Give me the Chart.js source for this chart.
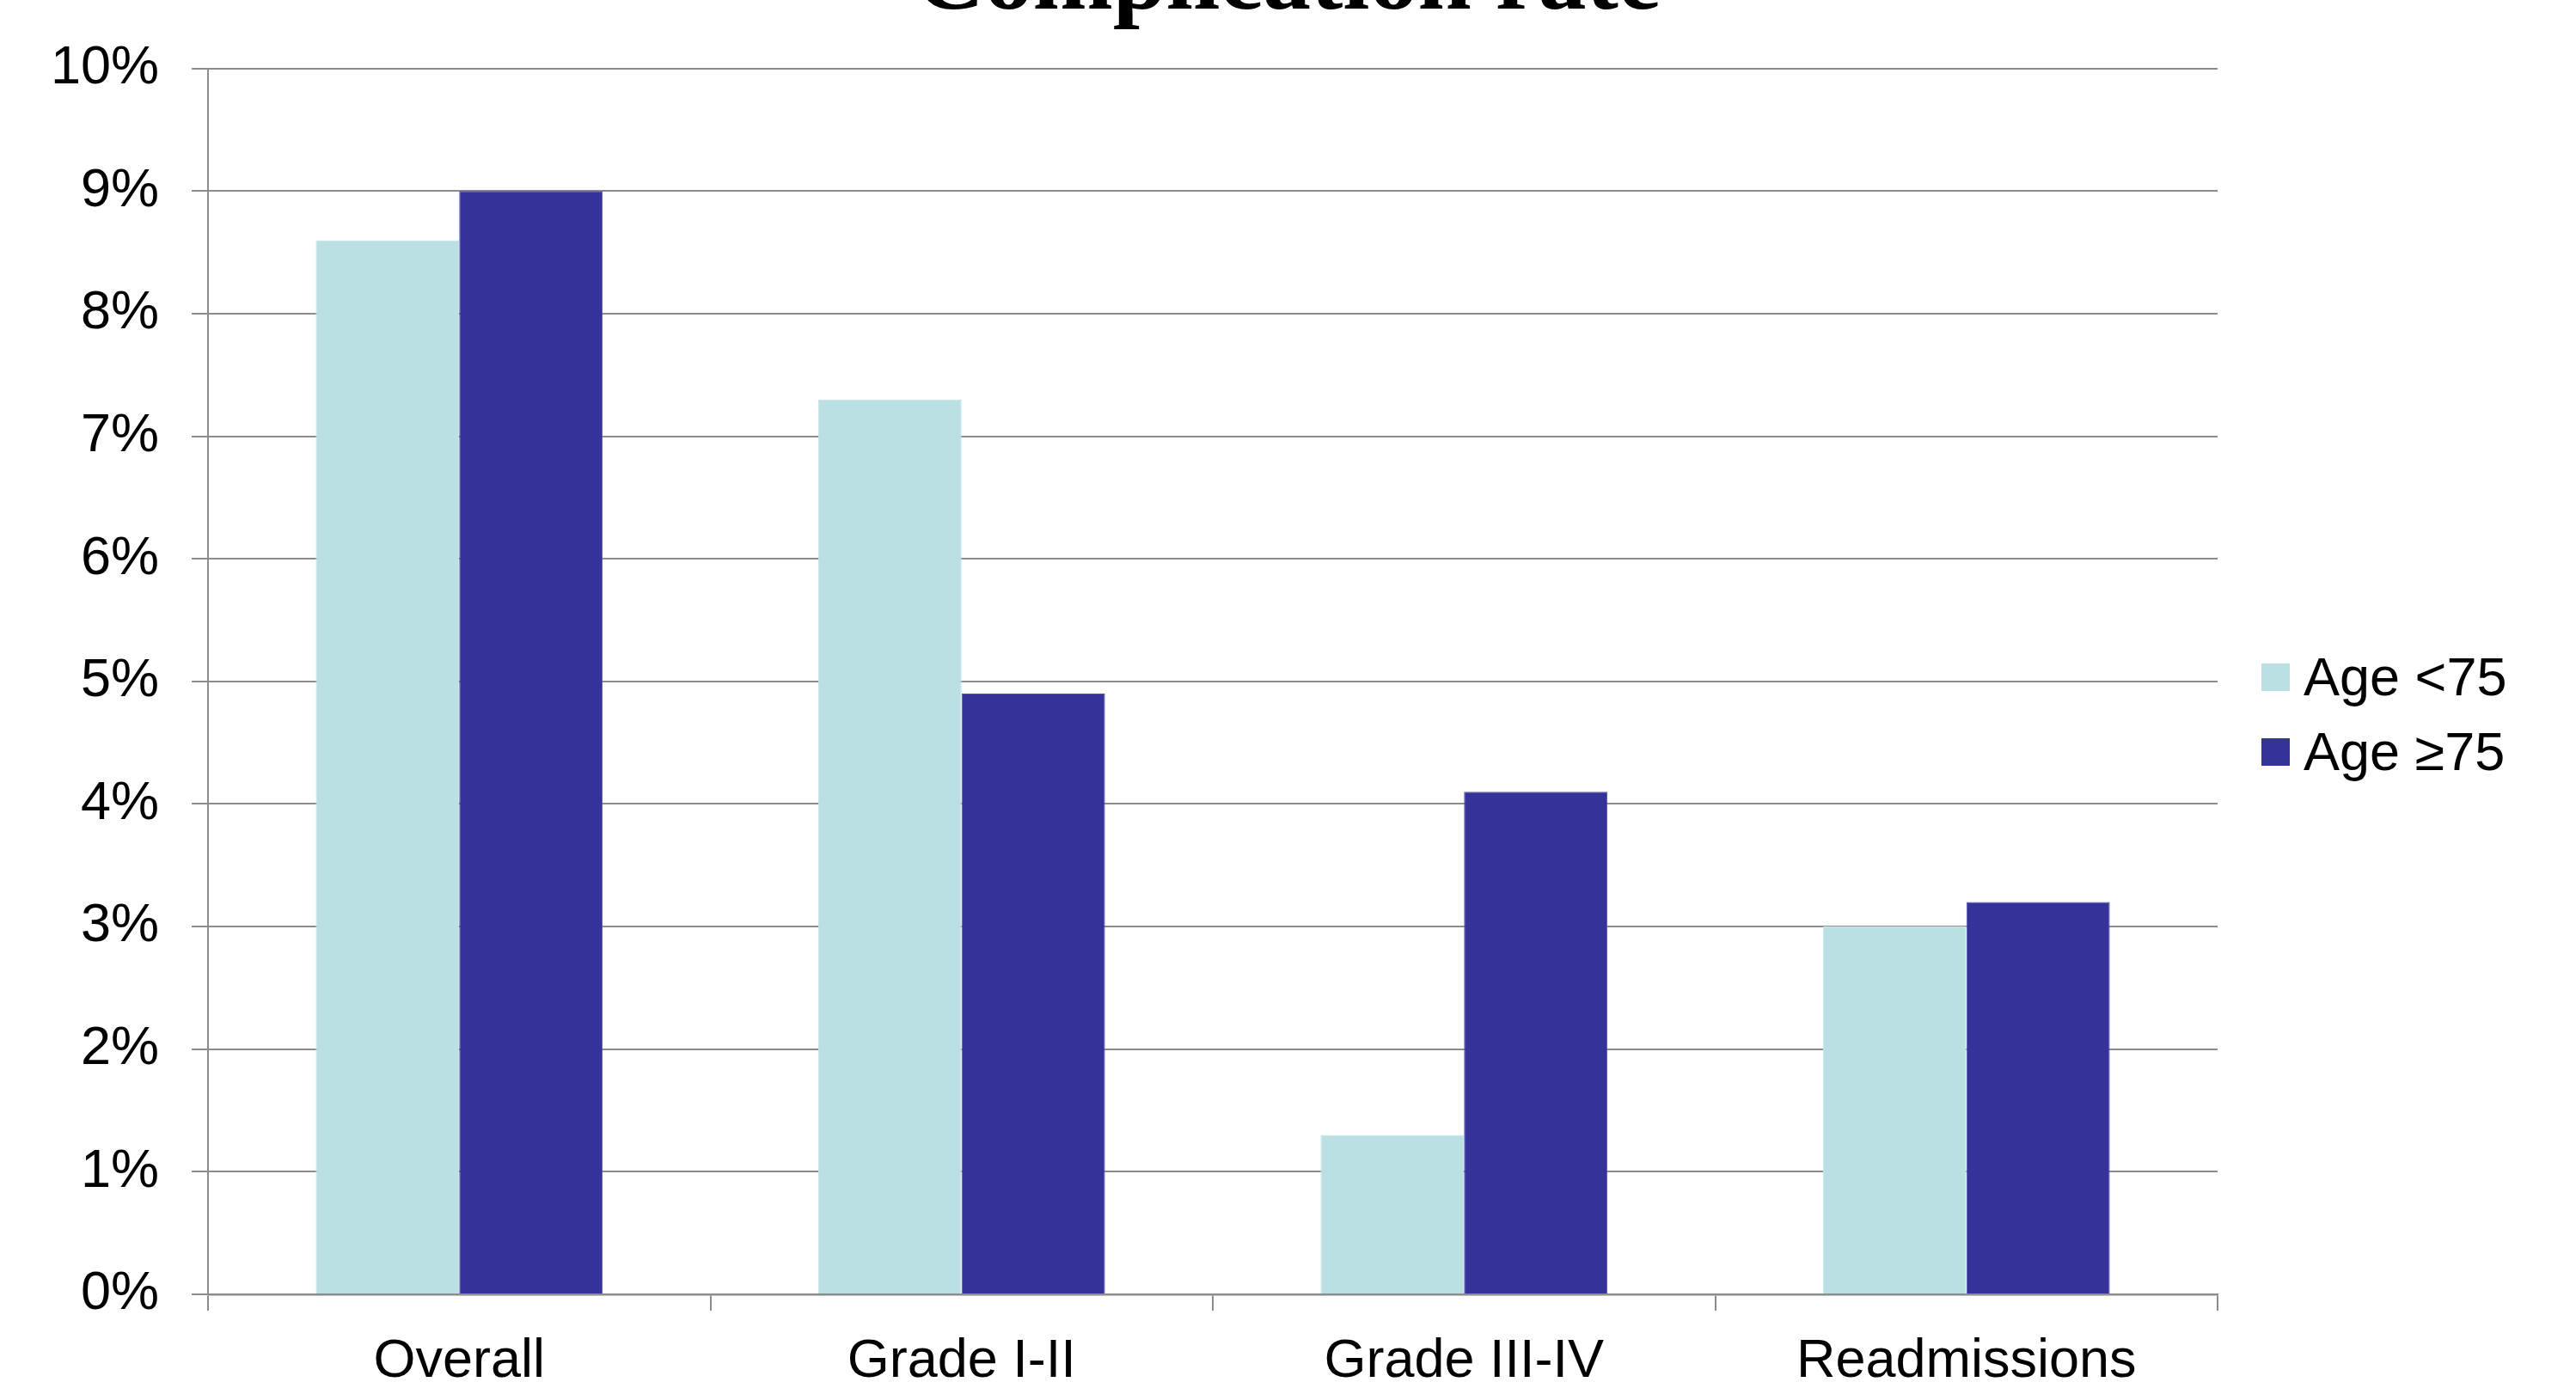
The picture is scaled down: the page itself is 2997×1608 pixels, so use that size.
<!DOCTYPE html>
<html>
<head>
<meta charset="utf-8">
<script src="https://cdn.jsdelivr.net/npm/chart.js@4/dist/chart.umd.min.js"></script>
<style>
  html, body { margin: 0; padding: 0; background: #ffffff; overflow: hidden; }
  #wrap { width: 2997px; height: 1608px; position: relative; }
  canvas { display: block; }
</style>
</head>
<body>
<div id="wrap"><canvas id="chart" width="2997" height="1608"></canvas></div>
<script>
// Complication rates (%) by age group
const categories = ['Overall', 'Grade I-II', 'Grade III-IV', 'Readmissions'];
const seriesNames = ['Age <75', 'Age \u226575'];
const youngerRates = [8.6, 7.3, 1.3, 3.0];
const olderRates = [9.0, 4.9, 4.1, 3.2];
const yTickValues = [0, 1, 2, 3, 4, 5, 6, 7, 8, 9, 10];
const seriesColors = ['#BAE0E3', '#35339A'];
const seriesBorders = ['#C6E6E8', '#5353AE'];

const SANS = '"Liberation Sans", Arial, Helvetica, sans-serif';
const SERIF = '"Liberation Serif", "Times New Roman", serif';
const GRID = '#8C8C8C';

// Legend drawn at the right of the plot: square swatch followed by the series name
const sideLegend = {
  id: 'sideLegend',
  afterDraw(chart) {
    const { ctx, chartArea } = chart;
    ctx.save();
    ctx.font = '63px ' + SANS;
    ctx.textBaseline = 'alphabetic';
    ctx.textAlign = 'left';
    chart.data.datasets.forEach((ds, i) => {
      const x = chartArea.right + 51;
      const y = 772 + i * 87;
      ctx.fillStyle = ds.backgroundColor;
      ctx.fillRect(x, y, 33, 32);
      ctx.fillStyle = '#000000';
      ctx.fillText(ds.label, x + 49, y + 37);
    });
    ctx.restore();
  }
};

new Chart(document.getElementById('chart'), {
  type: 'bar',
  data: {
    labels: categories,
    datasets: [
      {
        label: seriesNames[0],
        data: youngerRates,
        backgroundColor: seriesColors[0],
        borderColor: seriesBorders[0],
        borderWidth: 1
      },
      {
        label: seriesNames[1],
        data: olderRates,
        backgroundColor: seriesColors[1],
        borderColor: seriesBorders[1],
        borderWidth: 1
      }
    ]
  },
  options: {
    responsive: false,
    animation: false,
    devicePixelRatio: 1,
    layout: { padding: 0 },
    datasets: {
      bar: { categoryPercentage: 0.571, barPercentage: 1.0 }
    },
    plugins: {
      legend: { display: false },
      tooltip: { enabled: false },
      title: {
        display: true,
        text: 'Complication rate',
        color: '#000000',
        font: { family: SERIF, size: 112, weight: 'bold', lineHeight: 1.0 },
        padding: { top: -75, bottom: 42.7 }
      }
    },
    scales: {
      x: {
        offset: true,
        afterFit(scale) { scale.height = 102; },
        grid: {
          display: true,
          drawOnChartArea: false,
          drawTicks: true,
          tickLength: 19,
          color: GRID,
          lineWidth: 2,
          offset: true
        },
        border: { display: true, color: GRID, width: 2.5 },
        ticks: {
          color: '#000000',
          padding: 31,
          maxRotation: 0,
          font: { family: SANS, size: 63, lineHeight: 0.9 }
        }
      },
      y: {
        min: 0,
        max: 10,
        afterFit(scale) { scale.width = 242; },
        afterBuildTicks(scale) { scale.ticks = yTickValues.map(v => ({ value: v })); },
        grid: {
          color: GRID,
          lineWidth: 2,
          tickLength: 19,
          drawTicks: true
        },
        border: { display: true, color: GRID, width: 2 },
        ticks: {
          color: '#000000',
          padding: 38,
          font: { family: SANS, size: 63, lineHeight: 1.2 },
          callback: (v) => v + '%'
        }
      },
      // empty band on the right that holds the legend
      legendBand: {
        type: 'linear',
        position: 'right',
        display: true,
        afterFit(scale) { scale.width = 417; },
        grid: { display: false, drawTicks: false },
        border: { display: false },
        ticks: { display: false }
      }
    }
  },
  plugins: [sideLegend]
});
</script>
</body>
</html>
